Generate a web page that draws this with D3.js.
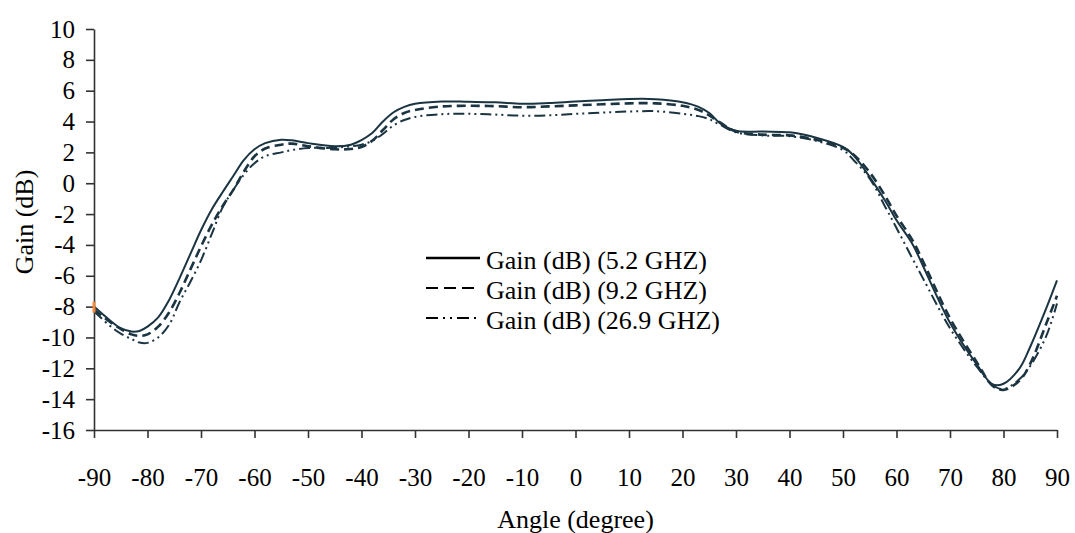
<!DOCTYPE html>
<html>
<head>
<meta charset="utf-8">
<script src="https://cdn.jsdelivr.net/npm/d3@7"></script>
<style>
  body { margin: 0; background: #fff; }
  svg { display: block; }
  svg text { font-family: "Liberation Serif", "DejaVu Serif", serif !important; fill: #000; }
</style>
</head>
<body>
<svg id="chart" width="1075" height="533"></svg>
<script>
// ---- data ----
const angles = [-90,-87,-85,-83,-81.5,-80,-78,-76,-74,-72,-70,-68,-66,-64,-62,-60,-58,-55,-53,-50,-45,-42,-40,-38,-36,-34,-32,-30,-25,-20,-15,-10,-5,0,5,10,15,20,23,25,27,30,35,40,45,50,52,55,58,60,63,65,70,75,78,80,83,85,88,90];
const gain52 = [-8.0,-8.9,-9.4,-9.62,-9.58,-9.3,-8.7,-7.6,-6.15,-4.6,-3.05,-1.7,-0.6,0.45,1.5,2.2,2.6,2.82,2.78,2.6,2.4,2.5,2.8,3.25,4.0,4.6,4.95,5.15,5.3,5.28,5.25,5.15,5.2,5.3,5.38,5.46,5.45,5.25,4.95,4.55,3.9,3.4,3.35,3.3,2.95,2.35,1.8,0.4,-1.2,-2.4,-3.95,-5.4,-9.05,-11.75,-13.05,-13.0,-12.0,-10.6,-8.1,-6.3];
const gain92 = [-8.2,-9.0,-9.45,-9.8,-9.9,-9.8,-9.3,-8.4,-7.1,-5.6,-4.1,-2.7,-1.5,-0.45,0.75,1.75,2.25,2.5,2.57,2.4,2.2,2.22,2.35,2.75,3.45,4.15,4.55,4.75,4.98,5.02,5.0,4.93,4.98,5.05,5.12,5.18,5.18,5.02,4.75,4.4,3.95,3.35,3.15,3.1,2.82,2.3,1.85,0.7,-0.9,-2.1,-3.7,-5.1,-8.75,-11.6,-13.15,-13.4,-12.8,-11.7,-9.1,-7.3];
const gain269 = [-8.3,-9.25,-9.75,-10.1,-10.33,-10.35,-10.0,-9.2,-7.7,-6.4,-5.0,-3.3,-1.6,-0.45,0.55,1.3,1.75,2.0,2.15,2.28,2.3,2.4,2.5,2.75,3.2,3.75,4.1,4.3,4.48,4.5,4.45,4.38,4.4,4.5,4.58,4.65,4.67,4.5,4.35,4.15,3.8,3.3,3.1,3.05,2.75,2.15,1.49,0.3,-1.6,-2.9,-4.9,-6.2,-9.4,-11.9,-13.1,-13.35,-12.7,-11.85,-9.9,-7.8];
const seriesNames = ["Gain (dB) (5.2 GHZ)", "Gain (dB) (9.2 GHZ)", "Gain (dB) (26.9 GHZ)"];
const xTicks = [-90,-80,-70,-60,-50,-40,-30,-20,-10,0,10,20,30,40,50,60,70,80,90];
const yTicks = [-16,-14,-12,-10,-8,-6,-4,-2,0,2,4,6,8,10];
const xTitle = "Angle (degree)";
const yTitle = "Gain (dB)";

// ---- chart ----
const FONT = '"Liberation Serif", "DejaVu Serif", serif';
const svg = d3.select("#chart").attr("font-family", FONT);
const x = d3.scaleLinear().domain([-90, 90]).range([94, 1057]);
const y = d3.scaleLinear().domain([-16, 10]).range([430, 29]);
const lineColor = "#1b3442";
const axisColor = "#333";

const xAxis = svg.append("g").attr("transform", `translate(0,${y(-16)})`)
  .call(d3.axisBottom(x).tickValues(xTicks).tickSize(8).tickSizeOuter(0).tickPadding(30).tickFormat(d3.format("d")));
const yAxis = svg.append("g").attr("transform", `translate(${x(-90)},0)`)
  .call(d3.axisLeft(y).tickValues(yTicks).tickSize(8).tickSizeOuter(0).tickPadding(11).tickFormat(d3.format("d")));
[xAxis, yAxis].forEach(g => {
  g.attr("font-family", FONT).attr("font-size", 25);
  g.select(".domain").attr("stroke", axisColor).attr("stroke-width", 1.6);
  g.selectAll(".tick line").attr("stroke", axisColor).attr("stroke-width", 1.6);
  g.selectAll(".tick text").attr("fill", "#000");
});
svg.selectAll(".tick text").text(function() { return d3.select(this).text().replace("\u2212", "-"); });

// axis titles
svg.append("text").attr("x", x(0)).attr("y", 528).attr("text-anchor", "middle")
  .attr("font-size", 26).text(xTitle);
svg.append("text").attr("transform", `translate(33,222) rotate(-90)`).attr("text-anchor", "middle")
  .attr("font-size", 26).text(yTitle);

const seriesVals = [gain52, gain92, gain269];
const dashes = [null, "9,5", "11,4,2,4,2,4"];
const widths = [2, 2.6, 2];

const line = d3.line().x(d => x(d[0])).y(d => y(d[1])).curve(d3.curveCatmullRom.alpha(0.5));
const plot = svg.append("g");
seriesVals.forEach((vals, i) => {
  plot.append("path")
    .datum(angles.map((a, j) => [a, vals[j]]))
    .attr("d", line)
    .attr("fill", "none")
    .attr("stroke", lineColor)
    .attr("stroke-width", widths[i])
    .attr("stroke-dasharray", dashes[i]);
});

// small orange marker at first point
svg.append("line")
  .attr("x1", x(angles[0])).attr("x2", x(angles[0]))
  .attr("y1", y(gain52[0]) - 5).attr("y2", y(gain52[0]) + 6)
  .attr("stroke", "#f08a3c").attr("stroke-width", 3);

// legend
const legend = svg.append("g");
seriesNames.forEach((name, i) => {
  const ly = 258 + i * 30;
  legend.append("line").attr("x1", 426).attr("x2", 480).attr("y1", ly).attr("y2", ly)
    .attr("stroke", "#000").attr("stroke-width", i === 0 ? 2.4 : 2)
    .attr("stroke-dasharray", i === 0 ? null : (i === 1 ? "12,6" : "12,5,2,5,2,5"));
  legend.append("text").attr("x", 486).attr("y", ly + 11).attr("font-size", 26).text(name);
});
</script>
</body>
</html>
